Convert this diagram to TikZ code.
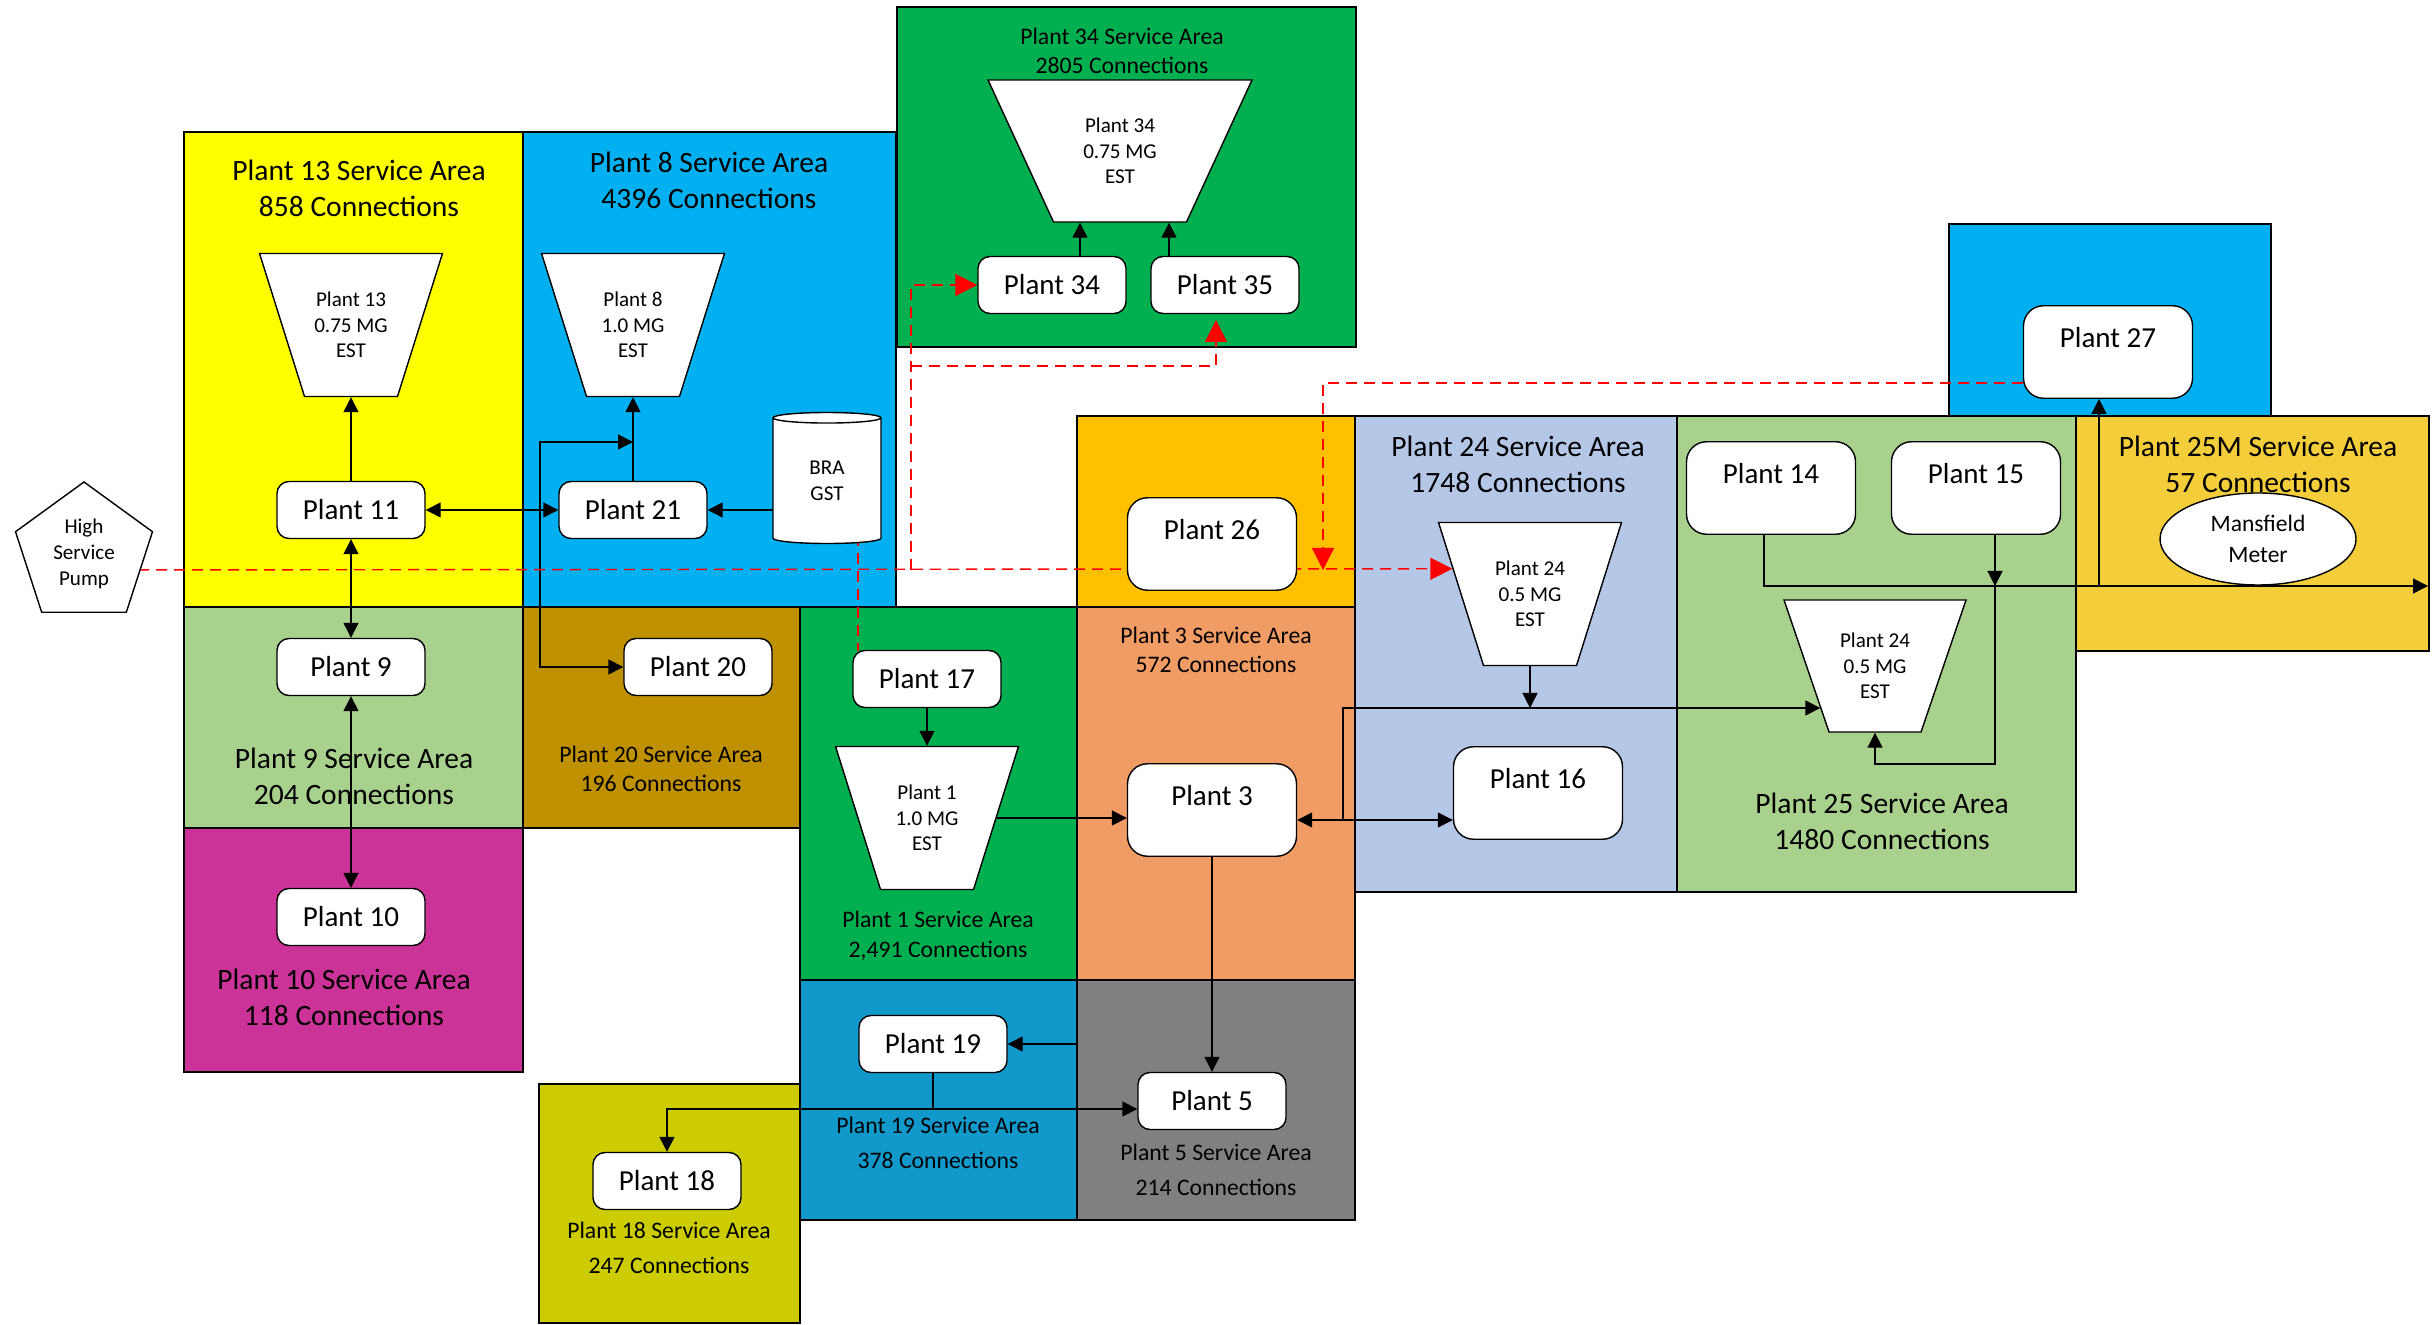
\documentclass[tikz,border=0pt]{standalone}
\usepackage{fontspec}
\setmainfont{Carlito}
\usetikzlibrary{arrows.meta,shapes.geometric}
\definecolor{cyel}{HTML}{FFFF00}
\definecolor{ccyan}{HTML}{00B0F0}
\definecolor{cgreen}{HTML}{00B050}
\definecolor{clgreen}{HTML}{A9D18E}
\definecolor{cmag}{HTML}{CC3399}
\definecolor{cgold}{HTML}{BF9000}
\definecolor{colive}{HTML}{CCCC00}
\definecolor{corange}{HTML}{F19C65}
\definecolor{camber}{HTML}{FFC000}
\definecolor{cblue}{HTML}{1199CC}
\definecolor{cgray}{HTML}{808080}
\definecolor{cpale}{HTML}{B4C7E7}
\definecolor{cmeter}{HTML}{F4CD3B}
\pgfdeclarelayer{bg}
\pgfdeclarelayer{ln}
\pgfsetlayers{bg,ln,main}
\begin{document}
\begin{tikzpicture}[x=0.1mm,y=-0.1mm,semithick,>={Triangle[length=1.5mm,width=1.5mm]},
	area/.style={draw,line width=0.7pt},
	bigname/.style={align=center,font=\fontsize{8.4}{10.2}\selectfont},
	smallname/.style={align=center,font=\fontsize{6.75}{8.4}\selectfont},
	plant/.style={draw,fill=white,rounded corners=1.2mm,minimum width=14.8mm,minimum height=5.7mm,inner sep=0pt,font=\fontsize{8.25}{10}\selectfont},
	tall/.style={plant,rounded corners=2mm,minimum width=16.9mm,minimum height=0pt,text height=4.2mm,text depth=5.05mm},
	est/.style={trapezium,trapezium left angle=#1,trapezium right angle=#1,draw,fill=white,minimum width=0pt,minimum height=0pt,inner xsep=4.65mm,inner ysep=7.15mm},
	esttext/.style={align=center,inner sep=0pt,font=\fontsize{6}{7.2}\selectfont},
	tank/.style={cylinder,shape border rotate=90,aspect=0.3,draw,fill=white,minimum height=13.1mm,minimum width=10.8mm,inner sep=0pt,align=center,font=\fontsize{6}{7.4}\selectfont},
	pumpshape/.style={regular polygon,regular polygon sides=5,draw,fill=white,minimum size=14.4mm,inner sep=0pt,align=center,font=\fontsize{6}{7.4}\selectfont},
	meter/.style={ellipse,draw,fill=white,minimum width=19.6mm,minimum height=9.2mm,inner sep=0pt,align=center,font=\fontsize{6.7}{8.7}\selectfont},
	redline/.style={red,dash pattern=on 1.1mm off 0.7mm},
	redtip/.style={-{Triangle[length=2.2mm,width=2.2mm]}}]
	\useasboundingbox(0,0)rectangle(2435,1325);
	\begin{pgfonlayer}{bg}
	\foreach \xa/\ya/\xb/\yb/\col in {184/132/523/607/cyel,523/132/896/607/ccyan,897/7/1356/347/cgreen,
		184/607/523/828/clgreen,184/828/523/1072/cmag,523/607/800/828/cgold,539/1084/800/1323/colive,
		800/607/1077/980/cgreen,1077/416/1355/607/camber,1077/607/1355/980/corange,800/980/1077/1220/cblue,
		1077/980/1355/1220/cgray,1355/416/1677/892/cpale,1677/416/2076/892/clgreen,2076/416/2429/651/cmeter,
		1949/224/2271/416/ccyan}
	\draw[area,fill=\col](\xa,\ya)rectangle(\xb,\yb);
	\node[bigname,name=l13]at(359,188){Plant 13 Service Area\\858 Connections};
	\node[bigname,name=l8]at(709,180){Plant 8 Service Area\\4396 Connections};
	\node[smallname,name=l34]at(1122,51){Plant 34 Service Area\\2805 Connections};
	\node[bigname,name=l9]at(354,776){Plant 9 Service Area\\204 Connections};
	\node[bigname,name=l10]at(344,997){Plant 10 Service Area\\118 Connections};
	\node[smallname,name=l20]at(661,769){Plant 20 Service Area\\196 Connections};
	\node[smallname,name=l18]at(669,1248){Plant 18 Service Area\\[1.4pt]247 Connections};
	\node[smallname,name=l1]at(938,936){Plant 1 Service Area\\2,491 Connections};
	\node[smallname,name=l3]at(1216,650){Plant 3 Service Area\\572 Connections};
	\node[smallname,name=l19]at(938,1143){Plant 19 Service Area\\[1.4pt]378 Connections};
	\node[smallname,name=l5]at(1216,1170){Plant 5 Service Area\\[1.4pt]214 Connections};
	\node[bigname,name=l24]at(1518,464){Plant 24 Service Area\\1748 Connections};
	\node[bigname,name=l25m]at(2258,464){Plant 25M Service Area\\57 Connections};
	\node[bigname,name=l25]at(1882,821){Plant 25 Service Area\\1480 Connections};
	\end{pgfonlayer}
	\node[pumpshape,name=hsp]at(84,554){High\\Service\\Pump};
	\node[plant,name=p11]at(351,510){Plant 11};
	\node[plant,name=p21]at(633,510){Plant 21};
	\node[tank,name=gst]at(827,481){BRA\\GST};
	\node[est=107.46,label={[esttext]center:Plant 13\\0.75 MG\\EST},name=est13]at(351,325){};
	\node[est=107.46,label={[esttext]center:Plant 8\\1.0 MG\\EST},name=est8]at(633,325){};
	\node[plant,name=p9]at(351,667){Plant 9};
	\node[plant,name=p20]at(698,667){Plant 20};
	\node[plant,name=p10]at(351,917){Plant 10};
	\node[plant,name=p18]at(667,1181){Plant 18};
	\node[est=114.76,inner xsep=6.65mm,inner ysep=7.1mm,label={[esttext]center:Plant 34\\0.75 MG\\EST},name=est34]at(1120,151){};
	\node[plant,name=p34]at(1052,285){Plant 34};
	\node[plant,name=p35]at(1225,285){Plant 35};
	\node[plant,name=p17]at(927,679){Plant 17};
	\node[est=107.46,label={[esttext]center:Plant 1\\1.0 MG\\EST},name=est1]at(927,818){};
	\node[tall,name=p26]at(1212,544){Plant 26};
	\node[tall,name=p3]at(1212,810){Plant 3};
	\node[plant,name=p19]at(933,1044){Plant 19};
	\node[plant,name=p5]at(1212,1101){Plant 5};
	\node[est=107.46,label={[esttext]center:Plant 24\\0.5 MG\\EST},name=est24a]at(1530,594){};
	\node[tall,name=p16]at(1538,793){Plant 16};
	\node[est=108.82,inner xsep=4.6mm,inner ysep=6.6mm,label={[esttext]center:Plant 24\\0.5 MG\\EST},name=est24b]at(1875,666){};
	\node[tall,name=p14]at(1771,488){Plant 14};
	\node[tall,name=p15]at(1976,488){Plant 15};
	\node[tall,name=p27]at(2108,352){Plant 27};
	\node[meter,name=mm]at(2258,539){Mansfield\\Meter};
	\coordinate(j21)at(633,442);
	\coordinate(k21)at(540,442);
	\coordinate(a34)at(1080,257);
	\coordinate(a35)at(1169,257);
	\coordinate(j3)at(1343,820);
	\coordinate(j3b)at(1343,708);
	\coordinate(j19)at(1077,1044);
	\coordinate(j19b)at(933,1109);
	\coordinate(j14)at(1764,586);
	\coordinate(j15)at(1995,586);
	\coordinate(j15b)at(1995,764);
	\coordinate(j27)at(2099,586);
	\coordinate(out)at(2428,586);
	\coordinate(r1)at(911,570);
	\coordinate(r2)at(911,366);
	\coordinate(r3)at(1323,570);
	\coordinate(r35)at(1216,320);
	\coordinate(j17)at(858,651);
	\begin{pgfonlayer}{ln}
	\draw[->](p11)--(est13);
	\draw[->](p21)--(est8);
	\draw[->](gst|-p21)--(p21);
	\draw[<->](p11)--(p21);
	\draw[<->](j21)--(k21)|-(p20);
	\draw[<->](p11)--(p9);
	\draw[<->](p9)--(p10);
	\draw[->](a34)--(a34|-est34.south);
	\draw[->](a35)--(a35|-est34.south);
	\draw[->](p17)--(est1);
	\draw[->](est1.east)--(est1.east-|p3.west);
	\draw[<->](p3.east|-j3)--(p16.west|-j3);
	\draw[->](j3)--(j3b)--(j3b-|est24b.218);
	\draw[->](est24a)--(est24a|-j3b);
	\draw[->](p3)--(p5);
	\draw[->](j19)--(p19);
	\draw(p19)--(j19b);
	\draw[->](j19b)-|(p18);
	\draw[->](j19b)--(j19b-|p5.west);
	\draw[->](p14-|j14)|-(out);
	\draw[->](p15-|j15)--(j15);
	\draw[->](j15)--(j15b)-|(est24b);
	\draw[->](j27)--(j27|-p27.south);
	\draw[redline,redtip](hsp|-r1)--(est24a.162);
	\draw[redline](gst-|j17)--(j17);
	\draw[redline,redtip](r1)|-(p34);
	\draw[redline,redtip](r2)-|(r35);
	\draw[redline,redtip](p27.200)-|(r3);
	\end{pgfonlayer}
\end{tikzpicture}
\end{document}
